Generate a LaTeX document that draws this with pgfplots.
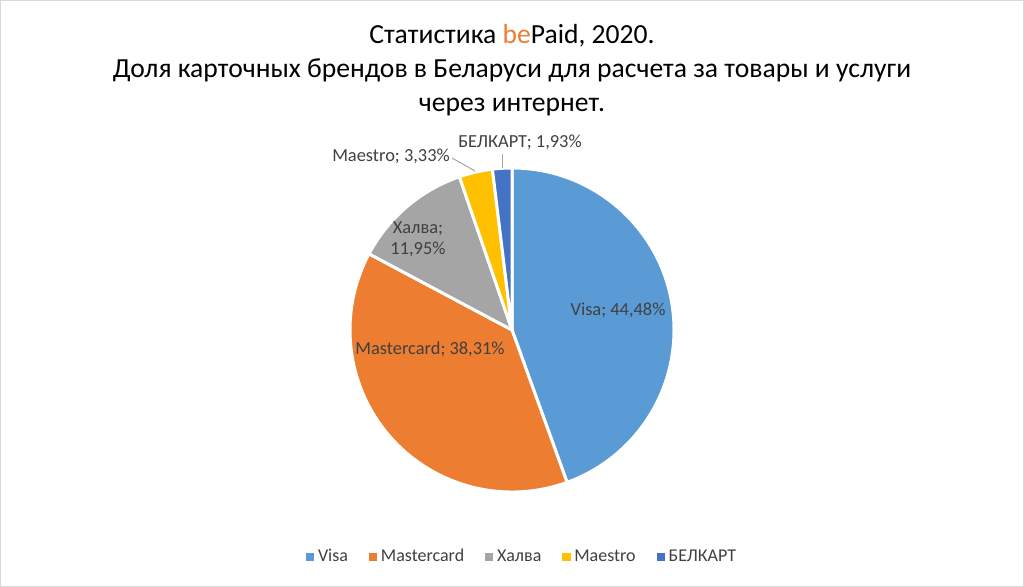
\documentclass[border=0pt]{standalone}
\usepackage{fontspec}
\setmainfont{Carlito}
\usepackage{pgfplots}
\usepackage{pgfplotstable}
\pgfplotsset{compat=1.18}
\definecolor{visa}{HTML}{5B9BD5}
\definecolor{master}{HTML}{ED7D31}
\definecolor{halva}{HTML}{A5A5A5}
\definecolor{maestro}{HTML}{FFC000}
\definecolor{belkart}{HTML}{4472C4}
\definecolor{labelgray}{HTML}{404040}
\definecolor{framegray}{HTML}{D9D9D9}

% share of card brands, percent (clockwise from 12 o'clock)
\pgfplotstableread[col sep=comma]{
share,colour
44.48,visa
38.31,master
11.95,halva
3.33,maestro
1.93,belkart
}\piedata

\begin{document}
\begin{tikzpicture}
\begin{axis}[
    width=512bp, height=293.5bp, scale only axis,
    xmin=0, xmax=1024, ymin=0, ymax=587,
    hide axis, clip=false,
    legend columns=-1,
    legend style={at={(axis cs:523,30)}, anchor=center, draw=none, fill=none,
        font=\fontsize{9bp}{11bp}\selectfont, text=labelgray,
        /tikz/every even column/.append style={column sep=8.5bp}},
    legend image code/.code={\fill[#1] (0bp,-1.8bp) rectangle (3.6bp,1.8bp);},
]
\pgfplotsextra{
    \pgfplotstablegetrowsof{\piedata}
    \pgfmathtruncatemacro\nrows{\pgfplotsretval-1}
    \gdef\cum{90}
    \foreach \i in {0,...,\nrows}{
        \pgfplotstablegetelem{\i}{share}\of\piedata
        \let\v\pgfplotsretval
        \pgfplotstablegetelem{\i}{colour}\of\piedata
        \let\c\pgfplotsretval
        \pgfmathsetmacro\e{\cum-3.6*\v}
        \fill[\c, draw=white, line width=1.5bp, line join=round]
            (axis cs:512,257) -- ++(\cum:81bp) arc[start angle=\cum, end angle=\e, radius=81bp] -- cycle;
        \xdef\cum{\e}
    }
    % leader lines
    \draw[halva, line width=0.5bp] (axis cs:452,429) -- (axis cs:475,416);
    \draw[halva, line width=0.5bp] (axis cs:502,433) -- (axis cs:502,419);
}
\addlegendimage{visa}\addlegendentry{Visa}
\addlegendimage{master}\addlegendentry{Mastercard}
\addlegendimage{halva}\addlegendentry{Халва}
\addlegendimage{maestro}\addlegendentry{Maestro}
\addlegendimage{belkart}\addlegendentry{БЕЛКАРТ}

\begin{scope}[every node/.style={font=\fontsize{9.2bp}{11bp}\selectfont, text=labelgray, align=center}]
\node at (axis cs:618,277) {Visa; 44,48\%};
\node at (axis cs:430,238) {Mastercard; 38,31\%};
\node[font=\fontsize{9.2bp}{10.5bp}\selectfont] at (axis cs:418,348) {Халва;\\11,95\%};
\node at (axis cs:391,431) {Maestro; 3,33\%};
\node at (axis cs:520,445) {БЕЛКАРТ; 1,93\%};
\end{scope}

\node[font=\fontsize{13.8bp}{17bp}\selectfont, align=center, text=black]
    at (axis cs:512,517) {Статистика \textcolor{master}{be}Paid, 2020.\\
    Доля карточных брендов в Беларуси для расчета за товары и услуги\\
    через интернет.};

\draw[framegray, line width=0.5bp] (axis cs:0.5,0.5) rectangle (axis cs:1023.5,586.5);
\end{axis}
\end{tikzpicture}
\end{document}
